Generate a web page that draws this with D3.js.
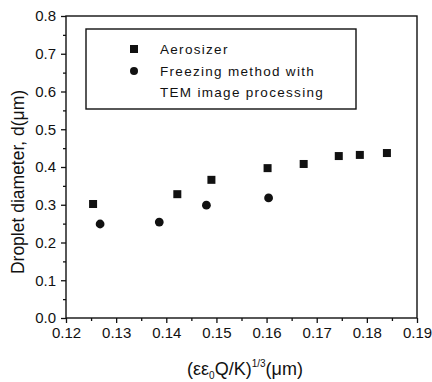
<!DOCTYPE html>
<html><head><meta charset="utf-8">
<script src="https://cdn.jsdelivr.net/npm/d3@7"></script>
<style>body{margin:0;background:#fff}svg{display:block}text{font-family:"Liberation Sans",Arial,sans-serif;fill:#111}</style>
</head><body>
<script>
const aeroX = [0.1254, 0.1422, 0.1490, 0.1602, 0.1674, 0.1744, 0.1786, 0.1840];
const aeroY = [0.302, 0.328, 0.366, 0.397, 0.408, 0.429, 0.432, 0.437];
const temX = [0.1268, 0.1386, 0.1480, 0.1604];
const temY = [0.249, 0.254, 0.299, 0.318];
const xTicks = [0.12, 0.13, 0.14, 0.15, 0.16, 0.17, 0.18, 0.19];
const yTicks = [0.0, 0.1, 0.2, 0.3, 0.4, 0.5, 0.6, 0.7, 0.8];
const legendLabels = ["Aerosizer", "Freezing method with", "TEM image processing"];

const W = 432, H = 382;
const m = {l: 66, r: 15, t: 16, b: 64};
const svg = d3.select("body").append("svg").attr("width", W).attr("height", H);
const x = d3.scaleLinear().domain([0.12, 0.19]).range([m.l, W - m.r]);
const y = d3.scaleLinear().domain([0, 0.8]).range([H - m.b, m.t]);

// frame
svg.append("rect").attr("x", m.l).attr("y", m.t).attr("width", W - m.r - m.l).attr("height", H - m.b - m.t)
  .attr("fill", "none").attr("stroke", "#111").attr("stroke-width", 1.4);

const xMinor = d3.range(0.125, 0.19, 0.01);
const yMinor = d3.range(0.05, 0.8, 0.1);

const xa = svg.append("g").attr("transform", `translate(0,${H - m.b})`)
  .call(d3.axisBottom(x).tickValues(xTicks).tickFormat(d3.format(".2f")).tickSize(5).tickPadding(4));
const xm = svg.append("g").attr("transform", `translate(0,${H - m.b})`)
  .call(d3.axisBottom(x).tickValues(xMinor).tickFormat("").tickSize(3));
const ya = svg.append("g").attr("transform", `translate(${m.l},0)`)
  .call(d3.axisLeft(y).tickValues(yTicks).tickFormat(d3.format(".1f")).tickSize(5).tickPadding(5));
const ym = svg.append("g").attr("transform", `translate(${m.l},0)`)
  .call(d3.axisLeft(y).tickValues(yMinor).tickFormat("").tickSize(3));
[xa, xm, ya, ym].forEach(g => {
  g.select(".domain").remove();
  g.selectAll("line").attr("stroke", "#111").attr("stroke-width", 1.3);
  g.selectAll("text").style("font-size", "15px").attr("fill", "#111");
});

// data
svg.append("g").selectAll("rect").data(aeroX).join("rect")
  .attr("x", (d, i) => x(d) - 4).attr("y", (d, i) => y(aeroY[i]) - 4)
  .attr("width", 8).attr("height", 8).attr("fill", "#111");
svg.append("g").selectAll("circle").data(temX).join("circle")
  .attr("cx", d => x(d)).attr("cy", (d, i) => y(temY[i])).attr("r", 4.4).attr("fill", "#111");

// legend
svg.append("rect").attr("x", 86).attr("y", 29).attr("width", 270).attr("height", 80)
  .attr("fill", "none").attr("stroke", "#111").attr("stroke-width", 1.4);
svg.append("rect").attr("x", 130).attr("y", 45).attr("width", 8).attr("height", 8).attr("fill", "#111");
svg.append("circle").attr("cx", 134).attr("cy", 71).attr("r", 4).attr("fill", "#111");
legendLabels.forEach((t, i) => {
  svg.append("text").attr("x", 160).attr("y", 54 + i * 21.5).text(t)
    .style("font-size", "13.5px").style("letter-spacing", "1.3px");
});

// axis titles
svg.append("text").attr("transform", `translate(24,182) rotate(-90)`)
  .attr("text-anchor", "middle").style("font-size", "17.5px").text("Droplet diameter, d(\u03bcm)");
const xt = svg.append("text").attr("x", 245).attr("y", 375).attr("text-anchor", "middle").style("font-size", "18px");
xt.append("tspan").text("(\u03b5\u03b5");
xt.append("tspan").attr("dy", 4).style("font-size", "10px").text("0");
xt.append("tspan").attr("dy", -4).text("Q/K)");
xt.append("tspan").attr("dy", -8).style("font-size", "10px").text("1/3");
xt.append("tspan").attr("dy", 8).text("(\u03bcm)");
</script>
</body></html>
